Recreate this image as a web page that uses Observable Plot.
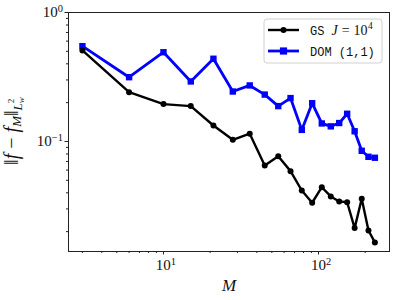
<!DOCTYPE html>
<html>
<head>
<meta charset="utf-8">
<script src="https://cdn.jsdelivr.net/npm/d3@7"></script>
<script src="https://cdn.jsdelivr.net/npm/@observablehq/plot@0.6"></script>
<style>
  html, body { margin: 0; padding: 0; background: #fff; }
  #chart { width: 399px; height: 300px; }
</style>
</head>
<body>
<div id="chart"></div>
<script>
// ---- data ----
const M = [3, 6, 10, 15, 21, 28, 36, 45, 55, 66, 78, 91, 105, 120, 136, 153, 171, 190, 210, 231];
const gsErr = [0.508, 0.241, 0.195, 0.188, 0.133, 0.103, 0.115, 0.0652, 0.0769, 0.0589,
               0.0417, 0.0335, 0.0442, 0.0375, 0.0343, 0.0338, 0.0213, 0.0360, 0.0204, 0.0165];
const domErr = [0.548, 0.315, 0.492, 0.292, 0.438, 0.244, 0.272, 0.231, 0.188, 0.217,
                0.123, 0.198, 0.138, 0.131, 0.139, 0.164, 0.120, 0.0847, 0.0761, 0.0748];
const xMajor = [10, 100];
const xMinor = [3, 4, 5, 6, 7, 8, 9, 20, 30, 40, 50, 60, 70, 80, 90, 200];
const yMajor = [0.1, 1];
const yMinor = [0.02, 0.03, 0.04, 0.05, 0.06, 0.07, 0.08, 0.09, 0.2, 0.3, 0.4, 0.5, 0.6, 0.7, 0.8, 0.9];
const xTickLabels = [["10", "1"], ["10", "2"]];
const yTickLabels = [["10", "−1"], ["10", "0"]];
const seriesNames = ["GS", "DOM (1,1)"];

const gsData = M.map((m, i) => ({M: m, v: gsErr[i]}));
const domData = M.map((m, i) => ({M: m, v: domErr[i]}));

const serif = "'Liberation Serif', 'DejaVu Serif', serif";
const mono = "'Liberation Mono', 'DejaVu Sans Mono', monospace";

const plot = Plot.plot({
  width: 399,
  height: 300,
  marginLeft: 68,
  marginRight: 10,
  marginTop: 12,
  marginBottom: 49,
  style: {fontFamily: serif, background: "#fff"},
  x: {type: "log", domain: [2.44, 287], label: null},
  y: {type: "log", domain: [0.01403, 1], label: null},
  marks: [
    Plot.axisX(xMajor, {tickSize: 3.5, tickFormat: () => "", stroke: "#222"}),
    Plot.axisX(xMinor, {tickSize: 2, tickFormat: () => "", stroke: "#222"}),
    Plot.axisY(yMajor, {tickSize: 3.5, tickFormat: () => "", stroke: "#222"}),
    Plot.axisY(yMinor, {tickSize: 2, tickFormat: () => "", stroke: "#222"}),
    Plot.line(domData, {x: "M", y: "v", stroke: "#0000ff", strokeWidth: 2.8}),
    Plot.dot(domData, {x: "M", y: "v", symbol: "square", r: 3.6, fill: "#0000ff", stroke: "none"}),
    Plot.line(gsData, {x: "M", y: "v", stroke: "#000", strokeWidth: 2.4}),
    Plot.dot(gsData, {x: "M", y: "v", r: 3, fill: "#000", stroke: "none"}),
    Plot.frame({stroke: "#222", strokeWidth: 1})
  ]
});

document.getElementById("chart").appendChild(plot);

const svg = d3.select(plot);
const sx = plot.scale("x"), sy = plot.scale("y");

function supLabel(g, x, y, base, exp, anchor, size) {
  const t = g.append("text")
    .attr("x", x).attr("y", y)
    .attr("text-anchor", anchor)
    .attr("font-family", serif)
    .attr("font-size", size)
    .attr("fill", "#111");
  t.append("tspan").text(base);
  t.append("tspan").attr("dy", "-0.45em").attr("font-size", size * 0.7 + "px").text(exp);
  return t;
}

const lab = svg.append("g");
xMajor.forEach((v, i) => {
  supLabel(lab, sx.apply(v) + 3, 270, xTickLabels[i][0], xTickLabels[i][1], "middle", 15);
});
yMajor.forEach((v, i) => {
  supLabel(lab, 63, sy.apply(v) + 5, yTickLabels[i][0], yTickLabels[i][1], "end", 15);
});

// x label
lab.append("text")
  .attr("x", 229).attr("y", 291)
  .attr("text-anchor", "middle")
  .attr("font-family", serif).attr("font-style", "italic")
  .attr("font-size", 17).attr("fill", "#111")
  .text("M");

// y label
const yl = lab.append("text")
  .attr("transform", "translate(18,131) rotate(-90)")
  .attr("text-anchor", "middle")
  .attr("font-family", serif).attr("font-size", 20).attr("fill", "#111");
yl.append("tspan").text("‖");
yl.append("tspan").attr("font-style", "italic").text("f");
yl.append("tspan").text(" − ");
yl.append("tspan").attr("font-style", "italic").text("f");
yl.append("tspan").attr("font-style", "italic").attr("font-size", "13px").attr("dy", 3).text("M");
yl.append("tspan").attr("dy", -3).text("‖");
yl.append("tspan").attr("font-style", "italic").attr("font-size", "13px").attr("dy", 4).text("L");
yl.append("tspan").attr("font-size", "9px").attr("dy", -8).text("2");
yl.append("tspan").attr("font-style", "italic").attr("font-size", "9px").attr("dx", -4.5).attr("dy", 10).text("w");

// legend
const lg = svg.append("g").attr("text-anchor", "start");
lg.append("rect").attr("x", 264).attr("y", 19).attr("width", 118).attr("height", 44)
  .attr("rx", 3).attr("fill", "#fff").attr("fill-opacity", 0.85)
  .attr("stroke", "#d0d0d0").attr("stroke-width", 1);
// GS entry
lg.append("line").attr("x1", 268).attr("x2", 299).attr("y1", 30).attr("y2", 30)
  .attr("stroke", "#000").attr("stroke-width", 2.4);
lg.append("circle").attr("cx", 283.5).attr("cy", 30).attr("r", 3).attr("fill", "#000");
const t1 = lg.append("text").attr("x", 310).attr("y", 34.5).attr("fill", "#111")
  .attr("font-size", 12).attr("text-anchor", "start");
t1.append("tspan").attr("font-family", mono).text(seriesNames[0]);
t1.append("tspan").attr("font-family", serif).attr("font-style", "italic").attr("font-size", "14px").attr("dx", 7).text("J");
t1.append("tspan").attr("font-family", serif).attr("font-size", "14px").attr("dx", 4).text("=");
t1.append("tspan").attr("font-family", serif).attr("font-size", "14px").attr("dx", 4).text("10");
t1.append("tspan").attr("font-family", serif).attr("font-size", "9.5px").attr("dx", 0.5).attr("dy", -5.5).text("4");
// DOM entry
lg.append("line").attr("x1", 268).attr("x2", 299).attr("y1", 51).attr("y2", 51)
  .attr("stroke", "#0000ff").attr("stroke-width", 2.8);
lg.append("rect").attr("x", 283.5 - 3.6).attr("y", 51 - 3.6).attr("width", 7.2).attr("height", 7.2)
  .attr("fill", "#0000ff");
lg.append("text").attr("x", 310).attr("y", 55.5).attr("fill", "#111").attr("font-size", 12)
  .attr("text-anchor", "start")
  .attr("font-family", mono).text(seriesNames[1]);
</script>
</body>
</html>
